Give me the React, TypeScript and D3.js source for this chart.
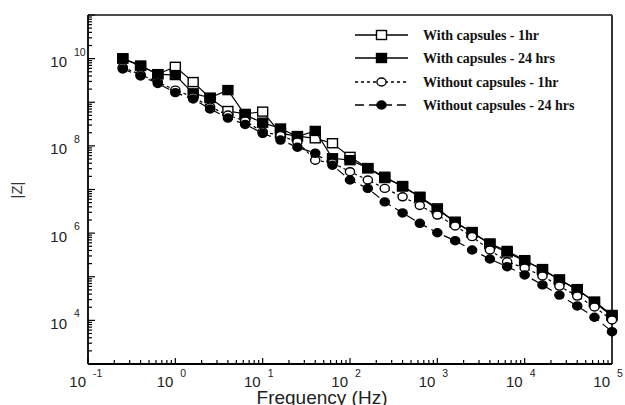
import React from 'react';
import * as d3 from 'd3';

const FREQ = [0.25, 0.4, 0.63, 1, 1.6, 2.5, 4, 6.3, 10, 16, 25, 40, 63, 100, 160, 250, 400, 630, 1000, 1600, 2500, 4000, 6300, 10000, 16000, 25000, 40000, 63000, 100000];

const WITH_1HR = [1.0e10, 6.8e9, 4.4e9, 6.5e9, 2.9e9, 1.25e9, 6.3e8, 5.4e8, 6.1e8, 1.94e8, 1.68e8, 1.49e8, 1.15e8, 5.6e7, 3.06e7, 1.83e7, 1.2e7, 6.8e6, 3.7e6, 1.75e6, 1.06e6, 5.6e5, 3.6e5, 2.3e5, 1.5e5, 8.4e4, 5.2e4, 2.6e4, 1.26e4];
const WITH_24HR = [1.02e10, 6.9e9, 4.4e9, 4.2e9, 1.6e9, 1.27e9, 1.9e9, 5.1e8, 3.4e8, 2.5e8, 1.64e8, 2.2e8, 5.2e7, 4.7e7, 3.1e7, 1.96e7, 1.17e7, 6.7e6, 3.5e6, 1.83e6, 1.02e6, 5.8e5, 3.9e5, 2.4e5, 1.43e5, 8.7e4, 5.0e4, 2.7e4, 1.33e4];
const WITHOUT_1HR = [6.3e9, 4.3e9, 2.9e9, 1.9e9, 1.32e9, 7.8e8, 5.1e8, 3.7e8, 2.1e8, 1.73e8, 1.23e8, 4.7e7, 4.05e7, 2.56e7, 1.65e7, 1.06e7, 6.8e6, 4.3e6, 2.6e6, 1.46e6, 8.3e5, 4.1e5, 2.2e5, 1.59e5, 1.04e5, 6.1e4, 3.6e4, 2.03e4, 1.02e4];
const WITHOUT_24HR = [5.8e9, 4.0e9, 2.7e9, 1.66e9, 1.19e9, 7.0e8, 4.35e8, 3.1e8, 1.94e8, 1.36e8, 9.3e7, 6.8e7, 3.6e7, 1.65e7, 1.06e7, 5.2e6, 2.9e6, 1.68e6, 1.02e6, 6.7e5, 4.1e5, 2.55e5, 1.7e5, 1.1e5, 6.5e4, 3.8e4, 2.14e4, 1.18e4, 5.5e3];

const SERIES_NAMES = ['With capsules - 1hr', 'With capsules - 24 hrs', 'Without capsules - 1hr', 'Without capsules - 24 hrs'];
const X_LABEL_EXP = ['-1', '0', '1', '2', '3', '4', '5'];
const Y_LABEL_EXP = ['4', '6', '8', '10'];

type Style = { marker: 'square' | 'circle'; filled: boolean; dash: string | null };
const STYLES: Style[] = [
  { marker: 'square', filled: false, dash: null },
  { marker: 'square', filled: true, dash: null },
  { marker: 'circle', filled: false, dash: '3,3' },
  { marker: 'circle', filled: true, dash: '9,5' },
];
const DATA = [WITH_1HR, WITH_24HR, WITHOUT_1HR, WITHOUT_24HR];

function Marker({ cx, cy, s }: { cx: number; cy: number; s: Style }) {
  if (s.marker === 'square') {
    return (
      <rect x={cx - 5} y={cy - 4.5} width={10} height={9}
        fill={s.filled ? '#000' : '#fff'} stroke="#000" strokeWidth={1.4} />
    );
  }
  return (
    <ellipse cx={cx} cy={cy} rx={4.6} ry={4}
      fill={s.filled ? '#000' : '#fff'} stroke="#000" strokeWidth={1.4} />
  );
}

export default function App() {
  const W = 625, H = 405;
  const L = 88, R = 612, T = 15, B = 364;
  const x = d3.scaleLog().domain([0.1, 1e5]).range([L, R]);
  const y = d3.scaleLog().domain([1e3, 1e11]).range([B, T]);

  const isMajor = (v: number) => Math.abs(Math.log10(v) - Math.round(Math.log10(v))) < 1e-6;
  const xTicks = x.ticks();
  const yTicks = y.ticks();

  const line = d3.line<number>()
    .x((_, i) => x(FREQ[i]))
    .y((d) => y(d));

  const sans = '"Liberation Sans", Arial, sans-serif';
  const serif = '"Liberation Serif", "Times New Roman", serif';
  const legendRows = [35, 58, 82, 105];

  return (
    <svg width={W} height={H} style={{ position: 'absolute', left: 0, top: 0, background: '#fff' }}>
      <rect x={0} y={0} width={W} height={H} fill="#fff" />
      {/* ticks */}
      {xTicks.map((t, i) => {
        const len = isMajor(t) ? 6 : 4;
        return <line key={'xt' + i} x1={x(t)} x2={x(t)} y1={B} y2={B - len} stroke="#000" strokeWidth={1.2} />;
      })}
      {yTicks.map((t, i) => {
        const len = isMajor(t) ? 7 : 4;
        return <line key={'yt' + i} x1={L} x2={L + len} y1={y(t)} y2={y(t)} stroke="#000" strokeWidth={1.2} />;
      })}
      {/* frame */}
      <line x1={L} x2={R} y1={T} y2={T} stroke="#111" strokeWidth={1.5} />
      <line x1={R} x2={R} y1={T} y2={B} stroke="#333" strokeWidth={2} />
      <line x1={L} x2={L} y1={T} y2={B} stroke="#000" strokeWidth={1.8} />
      <line x1={L} x2={R} y1={B} y2={B} stroke="#000" strokeWidth={1.8} />

      {/* x tick labels */}
      {X_LABEL_EXP.map((e) => {
        const px = x(Math.pow(10, +e));
        return (
          <g key={'xl' + e} fill="#222" fontFamily={sans}>
            <text x={px - 2} y={387} textAnchor="end" fontSize={15}>10</text>
            <text x={px + 5} y={377} textAnchor="start" fontSize={10.5}>{e}</text>
          </g>
        );
      })}
      {/* y tick labels */}
      {Y_LABEL_EXP.map((e) => {
        const py = y(Math.pow(10, +e));
        return (
          <g key={'yl' + e} fill="#222" fontFamily={sans}>
            <text x={67} y={py + 8.5} textAnchor="end" fontSize={15}>10</text>
            <text x={74} y={py - 3} textAnchor="start" fontSize={10.5}>{e}</text>
          </g>
        );
      })}
      {/* axis titles */}
      <text x={322} y={404} textAnchor="middle" fontFamily={sans} fontSize={19} fill="#222">Frequency (Hz)</text>
      <text transform="translate(22,190) rotate(-90)" textAnchor="middle" fontFamily={sans} fontSize={15} fill="#333">|Z|</text>

      {/* series */}
      {DATA.map((vals, si) => (
        <g key={'s' + si}>
          <path d={line(vals) || ''} fill="none" stroke="#000" strokeWidth={1.2}
            strokeDasharray={STYLES[si].dash || undefined} />
          {vals.map((v, i) => (
            <Marker key={i} cx={x(FREQ[i])} cy={y(v)} s={STYLES[si]} />
          ))}
        </g>
      ))}

      {/* legend */}
      {SERIES_NAMES.map((name, i) => (
        <g key={'lg' + i}>
          <line x1={355} x2={408} y1={legendRows[i]} y2={legendRows[i]} stroke="#000" strokeWidth={1.3}
            strokeDasharray={STYLES[i].dash || undefined} />
          <Marker cx={381.5} cy={legendRows[i]} s={STYLES[i]} />
          <text x={423} y={legendRows[i] + 5} fontFamily={serif} fontWeight="bold" fontSize={14} fill="#111">{name}</text>
        </g>
      ))}
    </svg>
  );
}
